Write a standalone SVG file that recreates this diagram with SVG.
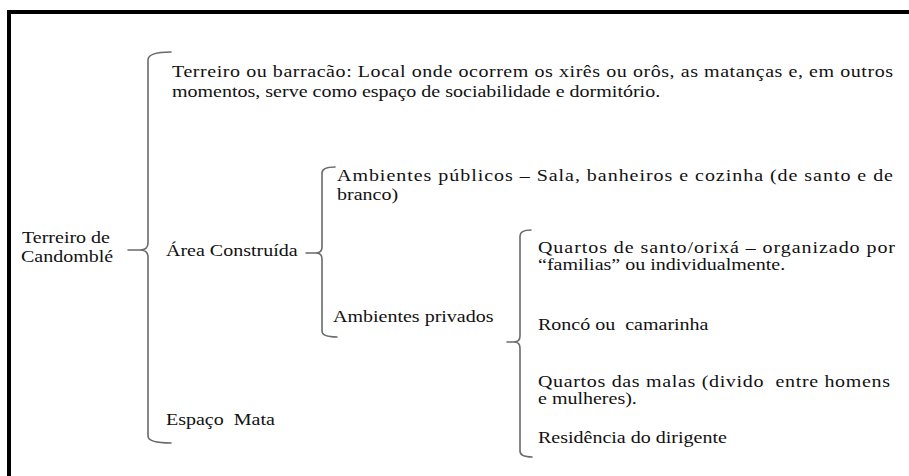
<svg xmlns="http://www.w3.org/2000/svg" width="909" height="476" viewBox="0 0 909 476">
<style>
text{font-family:'Liberation Serif','DejaVu Serif','Times New Roman',serif;font-size:16px;fill:#111}
.br{fill:none;stroke:#6a6a6a;stroke-width:1.6;stroke-linejoin:round;stroke-linecap:round}
.frame{fill:none;stroke:#000;stroke-width:4}
</style>
<rect width="909" height="476" fill="#fff"/>
<rect class="frame" x="9" y="12" width="910" height="480"/>
<g id="connectors">
<path class="br" d="M171,52 Q148,52 148,60 V243 Q148,250 140,250 H128 M140,250 Q148,250 148,257 V436 Q148,443 171,443"/>
<path class="br" d="M335,167 Q322,167 322,173 V247 Q322,253 316,253 H306 M316,253 Q322,253 322,259 V331 Q322,337 337,337"/>
<path class="br" d="M531,230 Q520,230 520,236 V336 Q520,342 514,342 H507 M514,342 Q520,342 520,348 V451 Q520,457 532,457"/>
</g>
<g id="terreiro-candomble" font-family="Liberation Serif, serif">
<text transform="translate(22,243) scale(1.25,1)">Terreiro de</text>
<text transform="translate(21,262) scale(1.25,1)">Candomblé</text>
</g>
<g id="terreiro-barracao">
<text transform="translate(172,77) scale(1.25,1)" textLength="576.8" lengthAdjust="spacing">Terreiro ou barracão: Local onde ocorrem os xirês ou orôs, as matanças e, em outros</text>
<text transform="translate(172,97) scale(1.25,1)">momentos, serve como espaço de sociabilidade e dormitório.</text>
</g>
<g id="area-construida">
<text transform="translate(166,256) scale(1.25,1)">Área Construída</text>
</g>
<g id="espaco-mata">
<text transform="translate(166,425) scale(1.25,1)" xml:space="preserve">Espaço  Mata</text>
</g>
<g id="ambientes-publicos">
<text transform="translate(337,181) scale(1.25,1)" textLength="444.8" lengthAdjust="spacing">Ambientes públicos – Sala, banheiros e cozinha (de santo e de</text>
<text transform="translate(337,200) scale(1.25,1)">branco)</text>
</g>
<g id="ambientes-privados">
<text transform="translate(333,322) scale(1.25,1)">Ambientes privados</text>
</g>
<g id="quartos-santo">
<text transform="translate(538,253) scale(1.25,1)" textLength="285.6" lengthAdjust="spacing">Quartos de santo/orixá – organizado por</text>
<text transform="translate(538,270) scale(1.25,1)">“familias” ou individualmente.</text>
</g>
<g id="ronco">
<text transform="translate(538,330) scale(1.25,1)" xml:space="preserve">Roncó ou  camarinha</text>
</g>
<g id="quartos-malas">
<text transform="translate(538,387) scale(1.25,1)" textLength="281.6" lengthAdjust="spacing" xml:space="preserve">Quartos das malas (divido  entre homens</text>
<text transform="translate(538,404) scale(1.25,1)">e mulheres).</text>
</g>
<g id="residencia">
<text transform="translate(538,443) scale(1.25,1)">Residência do dirigente</text>
</g>
</svg>
